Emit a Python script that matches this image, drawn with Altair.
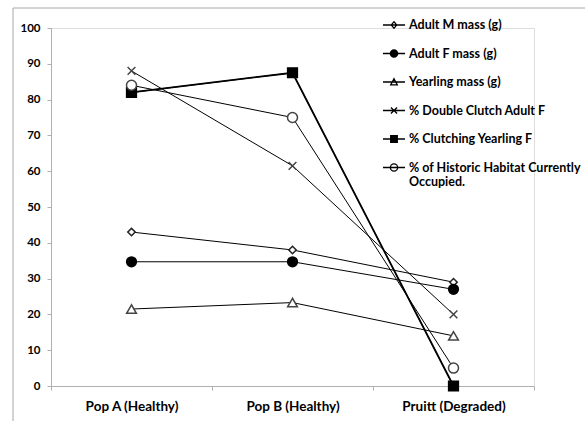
import math
import altair as alt
import pandas as pd

categories = ["Pop A (Healthy)", "Pop B (Healthy)", "Pruitt (Degraded)"]
series = [
    "Adult M mass (g)",
    "Adult F mass (g)",
    "Yearling mass (g)",
    "% Double Clutch Adult F",
    "% Clutching Yearling F",
    "% of Historic Habitat Currently Occupied.",
]
adult_m = [43, 38, 29]
adult_f = [34.7, 34.7, 27]
yearling = [21.5, 23.3, 14]
double_clutch = [88, 61.5, 20]
clutching_yearling = [82, 87.5, 0]
historic = [84, 75, 5]
y_ticks = list(range(0, 101, 10))

all_values = [adult_m, adult_f, yearling, double_clutch, clutching_yearling, historic]
rows = []
for s, vals in zip(series, all_values):
    for c, v in zip(categories, vals):
        rows.append({"series": s, "category": c, "value": v})
df = pd.DataFrame(rows)

# ---- marker styles ----
X_PATH = "M-1,-1L1,1M-1,1L1,-1"
marker_shapes = ["diamond", "circle", "triangle-up", X_PATH, "square", "circle"]
marker_sizes = [55, 95, 95, 60, 95, 100]
marker_fills = ["white", "black", "white", "white", "black", "white"]
marker_strokes = ["#222222", "black", "#444444", "#444444", "black", "#444444"]
THICK_SERIES = "% Clutching Yearling F"

# ---- legend symbol paths (line through marker; filled shapes hatched densely) ----
LINE = "M-1,0H1"
R = 0.33
circle_outline = f"M{R},0A{R},{R} 0 1,1 -{R},0A{R},{R} 0 1,1 {R},0Z"
circle_fill = "".join(
    f"M{-math.sqrt(max(R * R - (k * 0.05) ** 2, 0)):.3f},{k * 0.05:.2f}"
    f"H{math.sqrt(max(R * R - (k * 0.05) ** 2, 0)):.3f}"
    for k in range(-6, 7)
)
square_outline = "M-0.3,-0.3H0.3V0.3H-0.3Z"
square_fill = "".join(f"M-0.3,{k * 0.05:.2f}H0.3" for k in range(-6, 7))
legend_paths = [
    LINE + "M0,-0.3L0.25,0L0,0.3L-0.25,0Z",
    LINE + circle_outline + circle_fill,
    LINE + "M0,-0.3L0.3,0.27L-0.3,0.27Z",
    LINE + "M-0.28,-0.28L0.28,0.28M-0.28,0.28L0.28,-0.28",
    LINE + square_outline + square_fill,
    LINE + circle_outline,
]
LONG = "% of Historic Habitat Currently Occupied."

x_enc = alt.X(
    "category:N",
    sort=categories,
    scale=alt.Scale(domain=categories, paddingInner=0, paddingOuter=0),
    axis=alt.Axis(
        title=None, labelAngle=0, tickBand="extent", tickSize=4,
        domainColor="#b0b0b0", tickColor="#b0b0b0",
        labelFont="Lato", labelFontWeight="bold", labelFontSize=13.5,
        labelColor="black", labelPadding=9,
    ),
)
y_enc = alt.Y(
    "value:Q",
    scale=alt.Scale(domain=[0, 100], nice=False),
    axis=alt.Axis(
        title=None, values=y_ticks, grid=False, tickSize=4,
        domainColor="#b0b0b0", tickColor="#b0b0b0",
        labelFont="Lato", labelFontWeight="bold", labelFontSize=11.5,
        labelColor="black", labelPadding=7,
    ),
)

base = alt.Chart(df).encode(x=x_enc, y=y_enc)

lines = base.mark_line(color="black", strokeWidth=1).encode(detail="series:N")
thick_line = base.transform_filter(alt.datum.series == THICK_SERIES).mark_line(
    color="black", strokeWidth=1.8
)

# tiny (hidden under the markers) layer that only carries the legend
legend_layer = base.mark_point(
    size=1, stroke="black", strokeWidth=1.3, opacity=1, filled=False
).encode(
    shape=alt.Shape(
        "series:N",
        scale=alt.Scale(domain=series, range=legend_paths),
        legend=alt.Legend(
            title=None, orient="none", legendX=331, legendY=-15,
            symbolSize=484, symbolStrokeColor="black", symbolStrokeWidth=1.3,
            symbolOpacity=1, rowPadding=9.5, labelOffset=3, padding=0,
            labelFont="Lato", labelFontWeight="bold", labelFontSize=12.5,
            labelColor="black", labelLimit=300,
            labelExpr="datum.label == '" + LONG + "' ? ['% of Historic Habitat Currently', 'Occupied.'] : datum.label",
        ),
    ),
)

point_layers = []
for s, shp, sz, fl, st in zip(series, marker_shapes, marker_sizes, marker_fills, marker_strokes):
    point_layers.append(
        base.transform_filter(alt.datum.series == s).mark_point(
            shape=shp, size=sz, fill=fl, stroke=st, strokeWidth=1.5, opacity=1, filled=False,
        )
    )

frame = pd.DataFrame({"k": [0]})
border_top = alt.Chart(frame).mark_rule(color="#a8a8a8", strokeWidth=1).encode(
    x=alt.value(-38), x2=alt.value(560), y=alt.value(-20)
)
border_left = alt.Chart(frame).mark_rule(color="#a8a8a8", strokeWidth=1).encode(
    x=alt.value(-38), y=alt.value(-20), y2=alt.value(420)
)

chart = (
    alt.layer(border_top, border_left, lines, thick_line, legend_layer, *point_layers)
    .properties(
        width=483, height=358,
        autosize=alt.AutoSizeParams(type="none"),
        padding={"left": 51, "top": 28, "right": 51, "bottom": 35},
    )
    .configure_view(stroke=None)
    .configure(font="Lato")
)

chart.save("out.html", embed_options={"renderer": "svg", "actions": False})
